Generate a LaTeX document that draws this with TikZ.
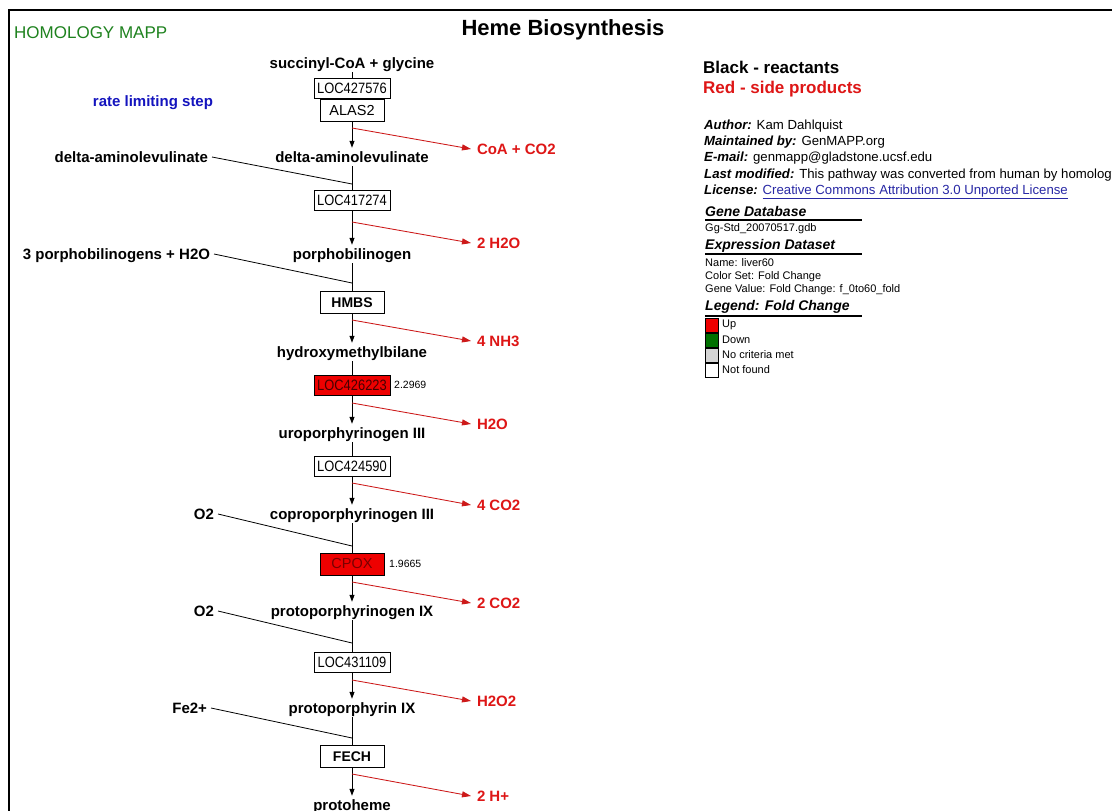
\documentclass[tikz,border=0pt]{standalone}
\usepackage{fontspec}
\setmainfont{Liberation Sans}
\newfontfamily\narrowf[FakeStretch=0.86]{Liberation Sans}
\usetikzlibrary{arrows.meta}
\definecolor{sidered}{RGB}{205,25,25}
\definecolor{redtxt}{RGB}{222,22,22}
\definecolor{boxred}{RGB}{238,0,0}
\definecolor{mappgreen}{RGB}{30,130,30}
\definecolor{rateblue}{RGB}{20,20,190}
\definecolor{linkblue}{RGB}{40,40,165}
\definecolor{downgreen}{RGB}{0,112,0}
\definecolor{nocrit}{RGB}{212,212,212}
\definecolor{locdark}{RGB}{70,0,0}
\definecolor{cpoxtxt}{RGB}{120,0,0}
\newcommand\pxsize[1]{\fontsize{#1pt}{#1pt}\selectfont}
\begin{document}
\begin{tikzpicture}[x=1pt,y=-1pt,
  comp/.style={font=\bfseries\pxsize{15}, inner sep=0pt, outer sep=2pt, text height=12.5pt, text depth=2pt},
  sidel/.style={comp, text=redtxt, anchor=west, outer sep=6pt},
  inl/.style={comp, anchor=east, outer sep=4pt},
  locbox/.style={draw, line width=1pt, minimum width=76pt, minimum height=20pt, inner sep=0pt, font=\narrowf\pxsize{15}},
  genebox/.style={draw, line width=1pt, minimum width=64pt, minimum height=22pt, inner sep=0pt, font=\pxsize{14.5}},
  conn/.style={line width=1pt},
  flow/.style={line width=1pt, -{Triangle[length=7pt,width=5pt]}},
  sidearr/.style={draw=sidered, line width=0.85pt, -{Triangle[length=9pt,width=6pt]}},
  inline/.style={line width=0.8pt},
  valtxt/.style={anchor=west, inner sep=0pt, font=\pxsize{10.5}},
  info/.style={anchor=west, inner sep=0pt, font=\pxsize{13.2}},
  sect/.style={anchor=west, inner sep=0pt, font=\bfseries\itshape\pxsize{14}},
  small/.style={anchor=west, inner sep=0pt, font=\pxsize{11}},
  legbox/.style={draw, line width=0.8pt, minimum width=13pt, minimum height=14pt, inner sep=0pt}
]
\useasboundingbox (0,0) rectangle (1112,811);
\fill[white] (0,0) rectangle (1112,811);
% frame
\draw[line width=2pt] (9,811) -- (9,10) -- (1112,10);

% headings
\node[anchor=west, inner sep=0pt, font=\pxsize{17}, text=mappgreen] (homol) at (14,33) {HOMOLOGY MAPP};
\node[inner sep=0pt, font=\bfseries\pxsize{22}] (title) at (563,30) {Heme Biosynthesis};
\node[comp, text=rateblue, outer sep=0pt] (rate) at (153,101) {rate limiting step};

% main column
\node[comp] (c1) at (352,63) {succinyl-CoA + glycine};
\node[locbox] (b1) at (352,88.5) {LOC427576};
\node[genebox] (b2) at (352,110.5) {ALAS2};
\node[comp] (c2) at (352,157) {delta-aminolevulinate};
\node[locbox] (b3) at (352,200) {LOC417274};
\node[comp] (c3) at (352,254) {porphobilinogen};
\node[genebox, font=\bfseries\pxsize{14}] (b4) at (352,302.5) {HMBS};
\node[comp] (c4) at (352,352) {hydroxymethylbilane};
\node[locbox, fill=boxred, text=locdark] (b5) at (352,385) {LOC426223};
\node[valtxt] (v5) at (394,385) {2.2969};
\node[comp] (c5) at (352,433) {uroporphyrinogen III};
\node[locbox] (b6) at (352,466.5) {LOC424590};
\node[comp] (c6) at (352,514) {coproporphyrinogen III};
\node[genebox, fill=boxred, text=cpoxtxt] (b7) at (352,564) {CPOX};
\node[valtxt] (v7) at (389,564) {1.9665};
\node[comp] (c7) at (352,611) {protoporphyrinogen IX};
\node[locbox] (b8) at (352,662.5) {LOC431109};
\node[comp] (c8) at (352,708) {protoporphyrin IX};
\node[genebox, font=\bfseries\pxsize{14}] (b9) at (352,756.5) {FECH};
\node[comp] (c9) at (352,805) {protoheme};

\draw[conn] (c1) -- (b1);
\draw[flow] (b2) -- (c2);
\draw[conn] (c2) -- (b3);
\draw[flow] (b3) -- (c3);
\draw[conn] (c3) -- (b4);
\draw[flow] (b4) -- (c4);
\draw[conn] (c4) -- (b5);
\draw[flow] (b5) -- (c5);
\draw[conn] (c5) -- (b6);
\draw[flow] (b6) -- (c6);
\draw[conn] (c6) -- (b7);
\draw[flow] (b7) -- (c7);
\draw[conn] (c7) -- (b8);
\draw[flow] (b8) -- (c8);
\draw[conn] (c8) -- (b9);
\draw[flow] (b9) -- (c9);

% side products
\coordinate (s1) at (352,128);
\coordinate (s2) at (352,222);
\coordinate (s3) at (352,320);
\coordinate (s4) at (352,403);
\coordinate (s5) at (352,483);
\coordinate (s6) at (352,582);
\coordinate (s7) at (352,680);
\coordinate (s8) at (352,774);
\node[sidel] (p1) at (471,149) {CoA + CO2};
\node[sidel] (p2) at (471,243) {2 H2O};
\node[sidel] (p3) at (471,341) {4 NH3};
\node[sidel] (p4) at (471,424) {H2O};
\node[sidel] (p5) at (471,505) {4 CO2};
\node[sidel] (p6) at (471,603) {2 CO2};
\node[sidel] (p7) at (471,701) {H2O2};
\node[sidel] (p8) at (471,796) {2 H+};
\foreach \i in {1,...,8} {\draw[sidearr] (s\i) -- (p\i.west);}

% co-reactants
\coordinate (j1) at (352,184);
\coordinate (j2) at (352,283);
\coordinate (j3) at (352,546);
\coordinate (j4) at (352,643);
\coordinate (j5) at (352,738);
\node[inl] (i1) at (212,157) {delta-aminolevulinate};
\node[inl] (i2) at (214,254) {3 porphobilinogens + H2O};
\node[inl] (i3) at (218,514) {O2};
\node[inl] (i4) at (218,611) {O2};
\node[inl] (i5) at (211,708) {Fe2+};
\foreach \i in {1,...,5} {\draw[inline] (i\i.east) -- (j\i);}

% right panel
\node[anchor=west, inner sep=0pt, font=\bfseries\pxsize{17}] (k1) at (703,67) {Black - reactants};
\node[anchor=west, inner sep=0pt, font=\bfseries\pxsize{17}, text=redtxt] (k2) at (703,89) {Red - side products};
\node[info] (a1) at (704,126) {\textbf{\textit{Author:}} Kam Dahlquist};
\node[info] (a2) at (704,142) {\textbf{\textit{Maintained by:}} GenMAPP.org};
\node[info] (a3) at (704,158) {\textbf{\textit{E-mail:}} genmapp@gladstone.ucsf.edu};
\node[info] (a4) at (704,175) {\textbf{\textit{Last modified:}} This pathway was converted from human by homology};
\node[info] (a5) at (704,192) {\textbf{\textit{License:}} \textcolor{linkblue}{\underline{Creative Commons Attribution 3.0 Unported License}}};

\node[sect] (g1) at (705,211) {Gene Database};
\draw[line width=2pt] (705,220) -- (862,220);
\node[small] (g2) at (705,229) {Gg-Std\_20070517.gdb};
\node[sect] (e1) at (705,246) {Expression Dataset};
\draw[line width=2pt] (705,254) -- (862,254);
\node[small] (e2) at (705,263) {Name: liver60};
\node[small] (e3) at (705,277) {Color Set: Fold Change};
\node[small] (e4) at (705,290) {Gene Value: Fold Change: f\_0to60\_fold};
\node[sect] (l0) at (705,307) {Legend: Fold Change};
\draw[line width=2pt] (705,316) -- (862,316);
\node[legbox, fill=boxred] (l1) at (711.5,325) {};
\node[legbox, fill=downgreen] (l2) at (711.5,340) {};
\node[legbox, fill=nocrit] (l3) at (711.5,355) {};
\node[legbox, fill=white] (l4) at (711.5,370) {};
\node[small] (t1) at (722,325) {Up};
\node[small] (t2) at (722,340) {Down};
\node[small] (t3) at (722,355) {No criteria met};
\node[small] (t4) at (722,370) {Not found};
\end{tikzpicture}
\end{document}
